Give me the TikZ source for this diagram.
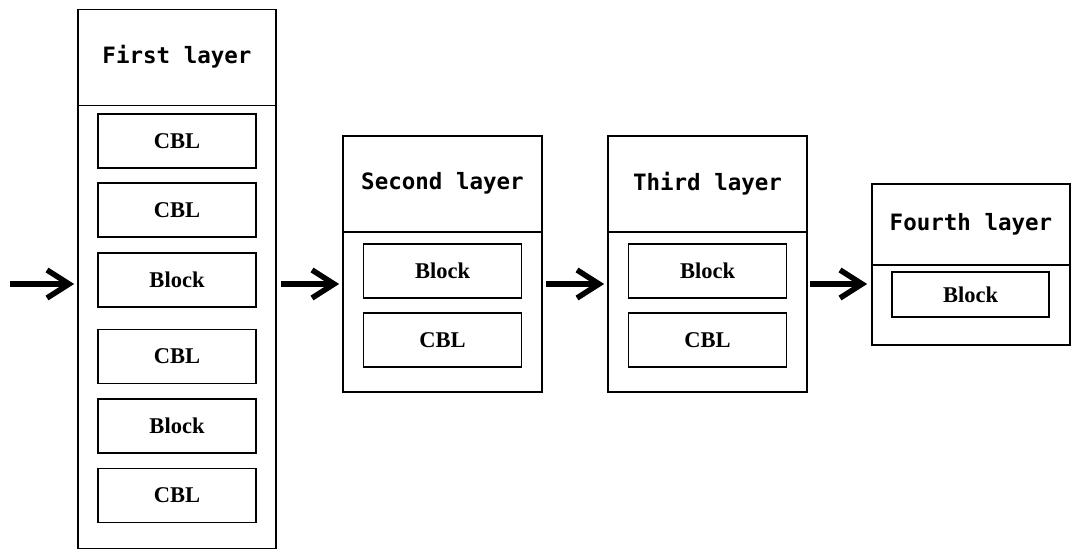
\documentclass[tikz,border=0pt]{standalone}
\usepackage{fontspec}
\setmainfont{Liberation Serif}
\newfontfamily\headfont{DejaVu Sans Mono}
\usetikzlibrary{arrows.meta}

\tikzset{
  layerbox/.style={draw, line width=1.7pt, inner sep=0pt},
  headtext/.style={font=\headfont\bfseries\fontsize{22.5}{24}\selectfont, inner sep=0pt},
  unit/.style={draw, line width=1.7pt, minimum width=158pt, minimum height=54pt,
               inner sep=0pt, font=\bfseries\fontsize{22.5}{24}\selectfont},
  flow/.style={line width=5.5pt, -{Straight Barb[length=22pt, width=28pt]}},
}

\begin{document}
\begin{tikzpicture}[x=1pt, y=-1pt]
  \useasboundingbox[fill=white] (0,0) rectangle (1078,551);

  % level of the connecting arrows
  \coordinate (ya) at (0,284);

  % first layer
  \node[layerbox, minimum width=198pt, minimum height=539pt] (L1) at (177,279) {};
  \draw[line width=1.7pt] (78,105.5) -- (276,105.5);
  \node[headtext] (H1) at (177,57) {First layer};
  \node[unit] (a1) at (177,141) {CBL};
  \node[unit] (a2) at (177,210) {CBL};
  \node[unit] (a3) at (177,280) {Block};
  \node[unit] (a4) at (177,356.5) {CBL};
  \node[unit] (a5) at (177,426) {Block};
  \node[unit] (a6) at (177,495.5) {CBL};

  % second layer
  \node[layerbox, minimum width=199pt, minimum height=256pt] (L2) at (442.5,264) {};
  \draw[line width=1.7pt] (343,232) -- (542,232);
  \node[headtext] (H2) at (442.5,183.5) {Second layer};
  \node[unit] (b1) at (442.5,271) {Block};
  \node[unit] (b2) at (442.5,340) {CBL};

  % third layer
  \node[layerbox, minimum width=199pt, minimum height=256pt] (L3) at (707.5,264) {};
  \draw[line width=1.7pt] (608,232) -- (807,232);
  \node[headtext] (H3) at (707.5,183.5) {Third layer};
  \node[unit] (c1) at (707.5,271) {Block};
  \node[unit] (c2) at (707.5,340) {CBL};

  % fourth layer
  \node[layerbox, minimum width=198pt, minimum height=161pt] (L4) at (971,264.5) {};
  \draw[line width=1.7pt] (872,265) -- (1070,265);
  \node[headtext] (H4) at (971,224.5) {Fourth layer};
  \node[unit, minimum width=157pt, minimum height=45pt] (d1) at (970.5,294.5) {Block};

  % data flow
  \coordinate (in) at (10,284);
  \draw[flow] (in) -- ([xshift=-3pt]L1.west |- ya);
  \draw[flow] ([xshift=4pt]L1.east |- ya) -- ([xshift=-3pt]L2.west |- ya);
  \draw[flow] ([xshift=3pt]L2.east |- ya) -- ([xshift=-3pt]L3.west |- ya);
  \draw[flow] ([xshift=2pt]L3.east |- ya) -- ([xshift=-4pt]L4.west |- ya);
\end{tikzpicture}
\end{document}
